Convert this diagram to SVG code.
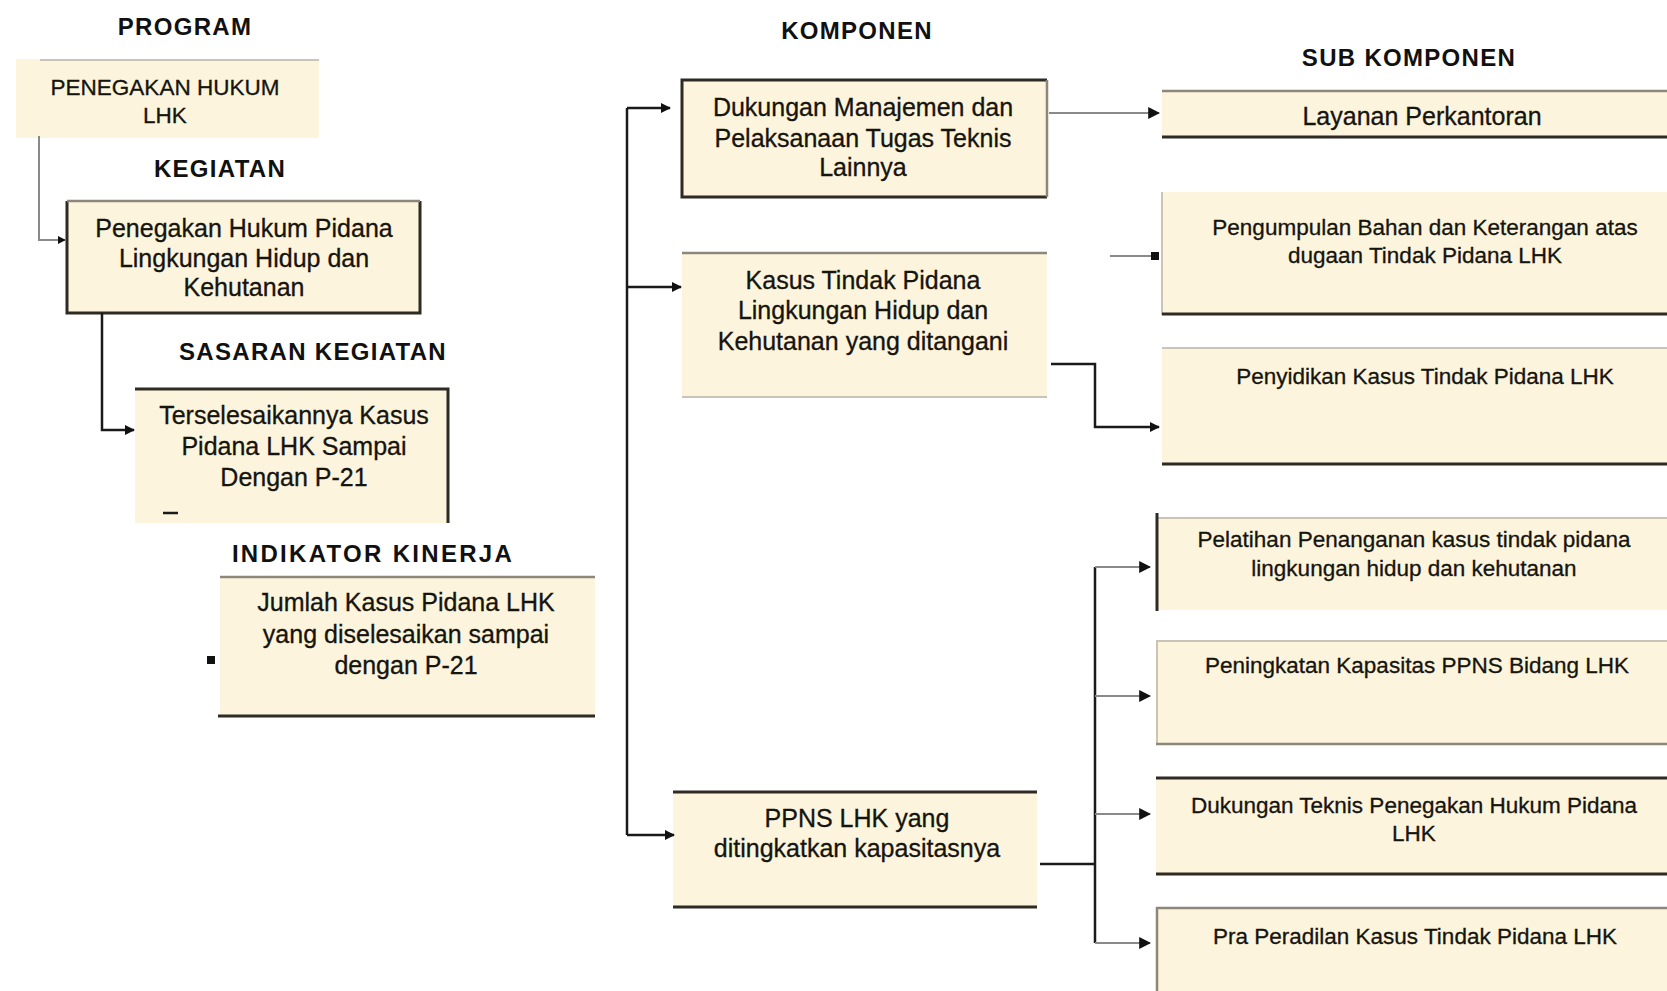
<svg xmlns="http://www.w3.org/2000/svg" width="1667" height="991" viewBox="0 0 1667 991">
  <defs>
    <marker id="arrow" viewBox="0 0 10 10" refX="9" refY="5" markerWidth="4" markerHeight="4" orient="auto" markerUnits="strokeWidth">
      <path d="M0,0 L10,5 L0,10 z" fill="#111"/>
    </marker>
    <marker id="arrowThin" viewBox="0 0 10 10" refX="9" refY="5" markerWidth="6" markerHeight="6" orient="auto" markerUnits="strokeWidth">
      <path d="M0,0 L10,5 L0,10 z" fill="#111"/>
    </marker>
    <style>
      .title { font-family: "Liberation Sans", Arial, sans-serif; font-size: 24px; font-weight: bold; fill: #111; text-anchor: middle; letter-spacing: 1.3px; }
      .txt { font-family: "Liberation Sans", Arial, sans-serif; font-size: 25px; fill: #16140f; stroke: #16140f; stroke-width: 0.3px; text-anchor: middle; }
      .txt-s { font-size: 22.5px; }
      .box { fill: #fcf4dc; }
      .edge-dark { stroke: #2e2b24; stroke-width: 3; fill: none; }
      .edge-mid { stroke: #8c877a; stroke-width: 2.5; fill: none; }
      .edge-light { stroke: #c9c4b6; stroke-width: 2; fill: none; }
      .conn { stroke: #1a1a1a; stroke-width: 2.5; fill: none; }
      .conn-gray { stroke: #8a8a8a; stroke-width: 2; fill: none; }
      .tip { fill: #111; }
    </style>
  </defs>

  <rect width="1667" height="991" fill="#ffffff"/>

  <!-- column headings -->
  <g id="headings">
    <text class="title" x="185" y="35">PROGRAM</text>
    <text class="title" x="220" y="177">KEGIATAN</text>
    <text class="title" x="313" y="360">SASARAN KEGIATAN</text>
    <text class="title" x="373" y="562" style="letter-spacing:2.3px">INDIKATOR KINERJA</text>
    <text class="title" x="857" y="39">KOMPONEN</text>
    <text class="title" x="1409" y="66">SUB KOMPONEN</text>
  </g>

  <!-- program -->
  <g id="node-program">
    <rect class="box" x="16" y="59" width="303" height="79"/>
    <line class="edge-light" x1="40" y1="60" x2="319" y2="60" stroke="#e4e0d4"/>
    <text class="txt txt-s" x="165" y="95">PENEGAKAN HUKUM</text>
    <text class="txt txt-s" x="165" y="123">LHK</text>
  </g>

  <!-- kegiatan -->
  <g id="node-kegiatan">
    <rect class="box" x="67" y="201" width="353" height="112"/>
    <path class="edge-dark" d="M67,201 V313 H420 V201"/>
    <line class="edge-mid" x1="67" y1="201" x2="420" y2="201" stroke="#5e5a50"/>
    <text class="txt" x="244" y="237">Penegakan Hukum Pidana</text>
    <text class="txt" x="244" y="267">Lingkungan Hidup dan</text>
    <text class="txt" x="244" y="296">Kehutanan</text>
  </g>

  <!-- sasaran kegiatan -->
  <g id="node-sasaran">
    <rect class="box" x="135" y="388" width="314" height="135"/>
    <path class="edge-dark" d="M135,389 H448 V523" stroke="#45413a"/>
    <text class="txt" x="294" y="424">Terselesaikannya Kasus</text>
    <text class="txt" x="294" y="455">Pidana LHK Sampai</text>
    <text class="txt" x="294" y="486">Dengan P-21</text>
  </g>

  <!-- indikator kinerja -->
  <g id="node-indikator">
    <rect class="box" x="220" y="576" width="375" height="140"/>
    <line class="edge-mid" x1="220" y1="577" x2="595" y2="577" stroke="#a6a196"/>
    <line class="edge-dark" x1="218" y1="716" x2="595" y2="716" stroke="#1e1c18"/>
    <text class="txt" x="406" y="611">Jumlah Kasus Pidana LHK</text>
    <text class="txt" x="406" y="643">yang diselesaikan sampai</text>
    <text class="txt" x="406" y="674">dengan P-21</text>
  </g>

  <!-- komponen -->
  <g id="node-komponen-1">
    <rect class="box" x="682" y="80" width="365" height="117"/>
    <path class="edge-dark" d="M1047,80 H682 V197 H1047"/>
    <line class="edge-mid" x1="1047" y1="80" x2="1047" y2="197"/>
    <text class="txt" x="863" y="116">Dukungan Manajemen dan</text>
    <text class="txt" x="863" y="147">Pelaksanaan Tugas Teknis</text>
    <text class="txt" x="863" y="176">Lainnya</text>
  </g>

  <g id="node-komponen-2">
    <rect class="box" x="682" y="252" width="365" height="146"/>
    <line class="edge-mid" x1="682" y1="253" x2="1047" y2="253"/>
    <line class="edge-light" x1="682" y1="397" x2="1047" y2="397"/>
    <text class="txt" x="863" y="289">Kasus Tindak Pidana</text>
    <text class="txt" x="863" y="319">Lingkungan Hidup dan</text>
    <text class="txt" x="863" y="350">Kehutanan yang ditangani</text>
  </g>

  <g id="node-komponen-3">
    <rect class="box" x="673" y="792" width="364" height="115"/>
    <line class="edge-dark" x1="673" y1="792" x2="1037" y2="792"/>
    <line class="edge-dark" x1="673" y1="907" x2="1037" y2="907"/>
    <text class="txt" x="857" y="827">PPNS LHK yang</text>
    <text class="txt" x="857" y="857">ditingkatkan kapasitasnya</text>
  </g>

  <!-- sub komponen -->
  <g id="node-sub-1">
    <rect class="box" x="1162" y="90" width="505" height="48"/>
    <line class="edge-mid" x1="1162" y1="91" x2="1667" y2="91"/>
    <line class="edge-dark" x1="1162" y1="137" x2="1667" y2="137"/>
    <text class="txt" x="1422" y="125">Layanan Perkantoran</text>
  </g>

  <g id="node-sub-2">
    <rect class="box" x="1162" y="192" width="505" height="123"/>
    <line class="edge-light" x1="1162" y1="192" x2="1162" y2="315" stroke="#e0dccf"/>
    <line class="edge-dark" x1="1162" y1="314" x2="1667" y2="314"/>
    <text class="txt txt-s" x="1425" y="235">Pengumpulan Bahan dan Keterangan atas</text>
    <text class="txt txt-s" x="1425" y="263">dugaan Tindak Pidana LHK</text>
  </g>

  <g id="node-sub-3">
    <rect class="box" x="1162" y="347" width="505" height="118"/>
    <line class="edge-light" x1="1162" y1="348" x2="1667" y2="348"/>
    <line class="edge-dark" x1="1162" y1="464" x2="1667" y2="464"/>
    <text class="txt txt-s" x="1425" y="384">Penyidikan Kasus Tindak Pidana LHK</text>
  </g>

  <g id="node-sub-4">
    <rect class="box" x="1156" y="517" width="511" height="93"/>
    <line class="edge-light" x1="1156" y1="518" x2="1667" y2="518"/>
    <line class="edge-dark" x1="1157" y1="513" x2="1157" y2="611"/>
    <text class="txt txt-s" x="1414" y="547">Pelatihan Penanganan kasus tindak pidana</text>
    <text class="txt txt-s" x="1414" y="576">lingkungan hidup dan kehutanan</text>
  </g>

  <g id="node-sub-5">
    <rect class="box" x="1156" y="640" width="511" height="105"/>
    <line class="edge-light" x1="1156" y1="641" x2="1667" y2="641"/>
    <line class="edge-light" x1="1157" y1="640" x2="1157" y2="745"/>
    <line class="edge-mid" x1="1156" y1="744" x2="1667" y2="744" stroke="#b5b0a4"/>
    <text class="txt txt-s" x="1417" y="673">Peningkatan Kapasitas PPNS Bidang LHK</text>
  </g>

  <g id="node-sub-6">
    <rect class="box" x="1156" y="777" width="511" height="98"/>
    <line class="edge-dark" x1="1156" y1="778" x2="1667" y2="778"/>
    <line class="edge-dark" x1="1156" y1="874" x2="1667" y2="874"/>
    <text class="txt txt-s" x="1414" y="813">Dukungan Teknis Penegakan Hukum Pidana</text>
    <text class="txt txt-s" x="1414" y="841">LHK</text>
  </g>

  <g id="node-sub-7">
    <rect class="box" x="1156" y="907" width="511" height="84"/>
    <line class="edge-mid" x1="1156" y1="908" x2="1667" y2="908" stroke="#b5b0a4"/>
    <line class="edge-mid" x1="1157" y1="907" x2="1157" y2="991"/>
    <text class="txt txt-s" x="1415" y="944">Pra Peradilan Kasus Tindak Pidana LHK</text>
  </g>

  <!-- connectors, drawn last so stubs sit on top of the boxes -->
  <g id="connectors">
    <path class="conn-gray" d="M39,136 V240 H65" marker-end="url(#arrow)"/>
    <path class="conn" d="M102,313 V430 H134" marker-end="url(#arrow)"/>
    <line class="conn" x1="163" y1="513" x2="178" y2="513"/>
    <rect class="tip" x="207" y="656" width="8" height="8"/>

    <path class="conn" d="M627,835 V108"/>
    <path class="conn" d="M627,108 H670" marker-end="url(#arrow)"/>
    <path class="conn" d="M627,287 H681" marker-end="url(#arrow)"/>
    <path class="conn" d="M627,835 H674" marker-end="url(#arrow)"/>

    <path class="conn-gray" d="M1049,113 H1159" marker-end="url(#arrowThin)"/>
    <path class="conn-gray" d="M1110,256 H1152" stroke="#e2e2e2"/>
    <rect class="tip" x="1151" y="252" width="8" height="8"/>

    <path class="conn" d="M1051,364 H1095 V427 H1159" marker-end="url(#arrow)"/>

    <path class="conn" d="M1040,864 H1095"/>
    <path class="conn" d="M1095,567 V943"/>
    <path class="conn-gray" d="M1095,567 H1150" marker-end="url(#arrowThin)"/>
    <path class="conn-gray" d="M1095,696 H1150" marker-end="url(#arrowThin)"/>
    <path class="conn-gray" d="M1095,814 H1150" marker-end="url(#arrowThin)"/>
    <path class="conn-gray" d="M1095,943 H1150" marker-end="url(#arrowThin)"/>
  </g>
</svg>
